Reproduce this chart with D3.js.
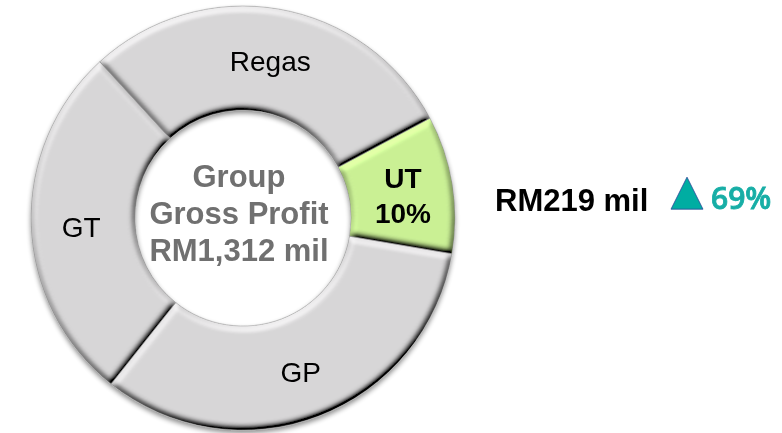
<!DOCTYPE html>
<html>
<head>
<meta charset="utf-8">
<script src="https://cdn.jsdelivr.net/npm/d3@7"></script>
<style>
  html, body { margin: 0; padding: 0; background: #fff; }
  svg { display: block; }
</style>
</head>
<body>
<svg id="chart" width="782" height="433"></svg>
<script>
// ---- data ----
const segments = ["Regas", "UT", "GP", "GT"];
const shares = [29, 10.5, 33, 27.5];
const segmentLabels = [["Regas"], ["UT", "10%"], ["GP"], ["GT"]];
const highlight = "UT";
const centerLines = ["Group", "Gross Profit", "RM1,312 mil"];
const calloutValue = "RM219 mil";
const calloutChange = "69%";

// ---- layout ----
const W = 782, H = 433;
const cx = 243, cy = 218;
const rOuter = 212, rInner = 108, rLabel = 162;
const startDeg = -42.5;

const svg = d3.select("#chart");
const defs = svg.append("defs");

// bevel filter (light from top)
const bevel = defs.append("filter").attr("id", "bevel")
  .attr("x", "-10%").attr("y", "-10%").attr("width", "120%").attr("height", "120%");
bevel.append("feGaussianBlur").attr("in", "SourceAlpha").attr("stdDeviation", 3.4).attr("result", "blur");
const diff = bevel.append("feDiffuseLighting").attr("in", "blur").attr("surfaceScale", 6)
  .attr("diffuseConstant", 1).attr("lighting-color", "#fff").attr("result", "light");
diff.append("feDistantLight").attr("azimuth", 250).attr("elevation", 50);
bevel.append("feComposite").attr("in", "SourceGraphic").attr("in2", "light")
  .attr("operator", "arithmetic").attr("k1", 1.305).attr("k2", 0).attr("k3", 0).attr("k4", 0)
  .attr("result", "lit");
bevel.append("feComposite").attr("in", "lit").attr("in2", "SourceAlpha").attr("operator", "in");

// drop shadow for the ring
const shadow = defs.append("filter").attr("id", "shadow")
  .attr("x", "-10%").attr("y", "-10%").attr("width", "120%").attr("height", "125%");
shadow.append("feGaussianBlur").attr("in", "SourceAlpha").attr("stdDeviation", 2.5).attr("result", "b");
shadow.append("feOffset").attr("in", "b").attr("dx", 0).attr("dy", 3).attr("result", "o");
shadow.append("feComponentTransfer").attr("in", "o").attr("result", "s")
  .append("feFuncA").attr("type", "linear").attr("slope", 0.45);
const merge = shadow.append("feMerge");
merge.append("feMergeNode").attr("in", "s");
merge.append("feMergeNode").attr("in", "SourceGraphic");

const data = segments.map((name, i) => ({ name, value: shares[i], label: segmentLabels[i] }));

const pie = d3.pie().sort(null).value(d => d.value)
  .startAngle(startDeg * Math.PI / 180)
  .endAngle((startDeg + 360) * Math.PI / 180);
const arcs = pie(data);

const arc = d3.arc().innerRadius(rInner).outerRadius(rOuter);
const labelArc = d3.arc().innerRadius(rLabel).outerRadius(rLabel);

const g = svg.append("g").attr("transform", `translate(${cx},${cy})`);

const ring = g.append("g").attr("filter", "url(#shadow)");
ring.selectAll("path.seg")
  .data(arcs)
  .join("path")
  .attr("class", "seg")
  .attr("d", arc)
  .attr("fill", d => d.data.name === highlight ? "#caf095" : "#d7d6d7")
  .attr("filter", "url(#bevel)");

ring.selectAll("path.edge")
  .data(arcs)
  .join("path")
  .attr("class", "edge")
  .attr("d", arc)
  .attr("fill", "none")
  .attr("stroke", "#909090")
  .attr("stroke-opacity", 0.6)
  .attr("stroke-width", 0.8);

// segment labels
const fontFam = "'Liberation Sans', Arial, Helvetica, sans-serif";
g.selectAll("text.seglabel")
  .data(arcs)
  .join("text")
  .attr("class", "seglabel")
  .attr("transform", d => { const [x, y] = labelArc.centroid(d); return `translate(${x},${y})`; })
  .attr("text-anchor", "middle")
  .attr("font-family", fontFam)
  .attr("font-size", 28)
  .attr("font-weight", d => d.data.name === highlight ? "bold" : "normal")
  .attr("fill", "#000")
  .each(function(d) {
    const lines = d.data.label;
    const lh = 35;
    const t = d3.select(this);
    lines.forEach((ln, i) => {
      t.append("tspan")
        .attr("x", 0)
        .attr("y", (i - (lines.length - 1) / 2) * lh + 13)
        .text(ln);
    });
  });

// center text
const ct = g.append("text")
  .attr("text-anchor", "middle")
  .attr("font-family", fontFam)
  .attr("font-size", 31)
  .attr("font-weight", "bold")
  .attr("fill", "#707070");
centerLines.forEach((ln, i) => {
  ct.append("tspan").attr("x", -4).attr("y", (i - 1) * 37 + 6).text(ln);
});

// callout
svg.append("text")
  .attr("x", 495).attr("y", 211)
  .attr("font-family", fontFam)
  .attr("font-size", 31)
  .attr("font-weight", "bold")
  .attr("fill", "#000")
  .text(calloutValue);

const tri = d3.symbol().type(d3.symbolTriangle).size(480);
svg.append("path")
  .attr("d", tri())
  .attr("transform", "translate(687,198.5) scale(0.96,1.11)")
  .attr("fill", "#00ada2")
  .attr("stroke", "#2b4a9a")
  .attr("stroke-width", 0.8);

svg.append("text")
  .attr("x", 711).attr("y", 209)
  .attr("font-family", "'Open Sans', Lato, sans-serif")
  .attr("font-size", 30)
  .attr("font-weight", 600)
  .attr("fill", "#17aea6")
  .attr("stroke", "#17aea6")
  .attr("stroke-width", 0.8)
  .text(calloutChange);
</script>
</body>
</html>
